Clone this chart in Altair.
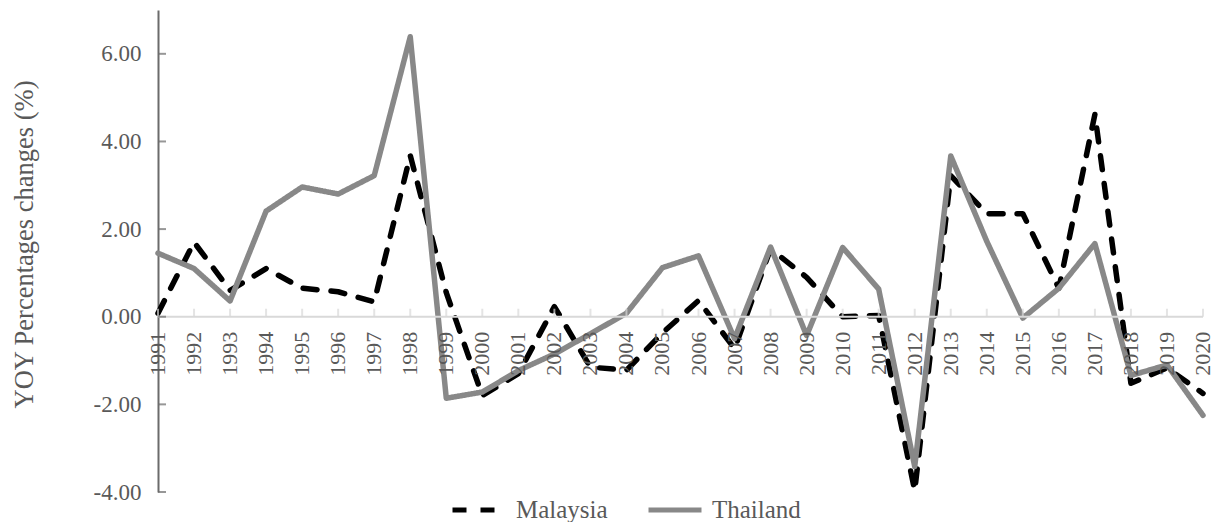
import altair as alt
import pandas as pd

years = list(range(1991, 2021))
malaysia = [0.08, 1.70, 0.60, 1.10, 0.65, 0.57, 0.34, 3.68, 0.55, -1.80,
            -1.30, 0.23, -1.15, -1.22, -0.37, 0.37, -0.73, 1.55, 0.90, 0.00,
            0.03, -3.97, 3.22, 2.35, 2.35, 0.65, 4.62, -1.52, -1.17, -1.75]
thailand = [1.45, 1.10, 0.36, 2.41, 2.96, 2.80, 3.22, 6.39, -1.86, -1.72,
            -1.23, -0.85, -0.39, 0.08, 1.12, 1.39, -0.50, 1.59, -0.43, 1.58,
            0.63, -3.42, 3.67, 1.72, -0.03, 0.65, 1.67, -1.34, -1.10, -2.25]
countries = ["Malaysia", "Thailand"]
y_ticks = [-4, -2, 0, 2, 4, 6]

FONT = "Liberation Serif"
TXT = "#595959"

df = pd.DataFrame(
    [{"year": y, "country": "Malaysia", "value": v} for y, v in zip(years, malaysia)]
    + [{"year": y, "country": "Thailand", "value": v} for y, v in zip(years, thailand)]
)
xdf = pd.DataFrame({"year": years, "label": [str(y) for y in years], "zero": [0] * len(years)})
ydf = pd.DataFrame({"value": y_ticks, "year": [1991] * len(y_ticks)})

xscale = alt.Scale(domain=[1991, 2020], nice=False, zero=False)
yscale = alt.Scale(domain=[-4, 7], nice=False, zero=False)

lines = alt.Chart(df).mark_line(strokeWidth=5.5, strokeCap="round", strokeJoin="round").encode(
    x=alt.X("year:Q", scale=xscale, axis=None),
    y=alt.Y("value:Q", scale=yscale,
            axis=alt.Axis(values=y_ticks, title="YOY Percentages changes (%)",
                          labelExpr="replace(format(datum.value, '.2f'), '\u2212', '-')",
                          ticks=False, grid=False,
                          domainColor="#6b6b6b", domainWidth=2,
                          labelFont=FONT, labelFontSize=23, labelColor=TXT, labelPadding=17,
                          titleFont=FONT, titleFontSize=26.5, titleColor=TXT, titleFontWeight="normal",
                          titleAngle=270, titleX=-134, titleY=234,
                          titleAlign="center", titleBaseline="middle")),
    color=alt.Color("country:N", scale=alt.Scale(domain=countries, range=["#000000", "#888888"]),
                    legend=alt.Legend(title=None)),
    strokeDash=alt.StrokeDash("country:N", scale=alt.Scale(domain=countries, range=[[14, 14], [1, 0]]),
                              legend=alt.Legend(title=None)),
)

zero_rule = alt.Chart(xdf).mark_rule(color="#d9d9d9", strokeWidth=2).encode(
    x=alt.X("min(year):Q"),
    x2=alt.X2("max(year):Q"),
    y=alt.Y("min(zero):Q"),
)

x_ticks = alt.Chart(xdf).mark_tick(color="#d9d9d9", thickness=2, size=8, orient="vertical", yOffset=-4).encode(
    x=alt.X("year:Q"),
    y=alt.Y("zero:Q"),
)

x_labels = alt.Chart(xdf).mark_text(angle=270, align="right", baseline="middle", yOffset=15,
                                    font=FONT, fontSize=22, color=TXT).encode(
    x=alt.X("year:Q"),
    y=alt.Y("zero:Q"),
    text="label:N",
)

y_tick_marks = alt.Chart(ydf).mark_tick(color="#6b6b6b", thickness=2, size=8, orient="horizontal", xOffset=4).encode(
    x=alt.X("year:Q"),
    y=alt.Y("value:Q"),
)

chart = alt.layer(lines, zero_rule, x_ticks, x_labels, y_tick_marks).properties(
    width=1045, height=482,
    autosize=alt.AutoSizeParams(type="none"),
    padding={"left": 150, "top": 2, "right": 11, "bottom": 30},
).configure_view(stroke=None).configure_legend(
    orient="none", legendX=292, legendY=471, direction="horizontal",
    symbolType="stroke", symbolSize=2809, symbolStrokeWidth=5,
    labelFont=FONT, labelFontSize=25, labelColor=TXT, labelOffset=8,
    columnPadding=30, padding=0,
)

chart.save("out.html", embed_options={"renderer": "svg", "actions": False})
